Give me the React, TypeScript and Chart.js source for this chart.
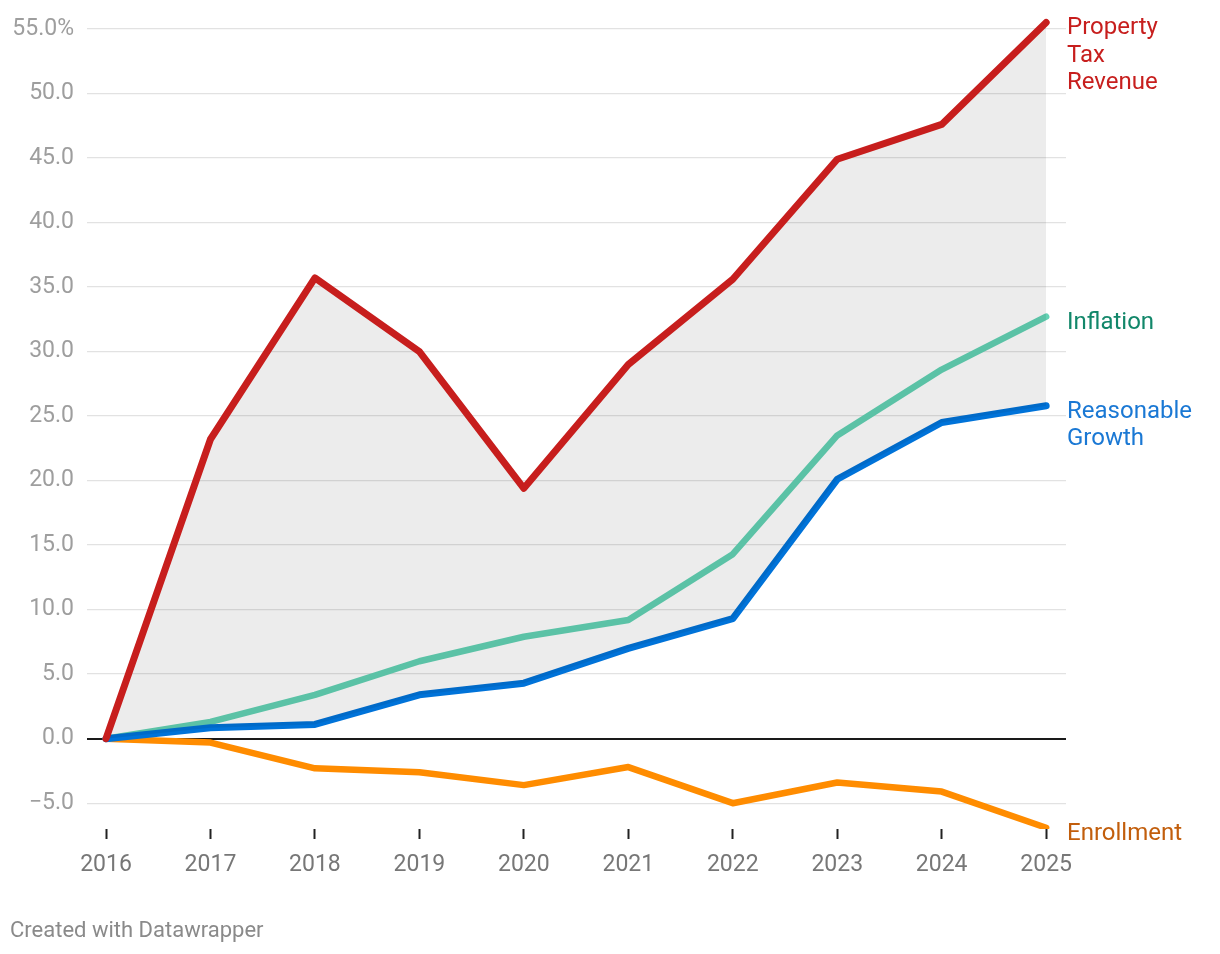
import React, { useEffect, useRef } from "react";
import { Chart, registerables } from "chart.js";

Chart.register(...registerables);

const years = [2016, 2017, 2018, 2019, 2020, 2021, 2022, 2023, 2024, 2025];
const propertyTax = [0, 23.2, 35.7, 30.0, 19.4, 29.0, 35.6, 44.9, 47.6, 55.5];
const reasonableGrowth = [0, 0.85, 1.1, 3.4, 4.3, 7.0, 9.3, 20.1, 24.5, 25.8];
const inflation = [0, 1.3, 3.4, 6.0, 7.9, 9.2, 14.3, 23.5, 28.6, 32.7];
const enrollment = [0, -0.3, -2.3, -2.6, -3.6, -2.2, -5.0, -3.4, -4.1, -6.9];
const yTicks = [-5, 0, 5, 10, 15, 20, 25, 30, 35, 40, 45, 50, 55];
const seriesLabels = [
  ["Property", "Tax", "Revenue"],
  ["Reasonable", "Growth"],
  ["Inflation"],
  ["Enrollment"],
];
const labelColors = ["#c71e1d", "#1a78d4", "#12876a", "#c25e0c"];
const footer = "Created with Datawrapper";

const FONT = "Roboto, 'Noto Sans', sans-serif";

const pts = (vals: number[]) => years.map((x, i) => ({ x, y: vals[i] }));

const labelPlugin = {
  id: "endLabels",
  afterDatasetsDraw(chart: any) {
    const ctx = chart.ctx;
    const area = chart.chartArea;
    ctx.save();
    ctx.font = `24px ${FONT}`;
    ctx.textBaseline = "middle";
    ctx.textAlign = "left";
    chart.data.datasets.forEach((ds: any, i: number) => {
      const meta = chart.getDatasetMeta(i);
      const last = meta.data[meta.data.length - 1];
      ctx.fillStyle = labelColors[i];
      seriesLabels[i].forEach((line, j) => {
        ctx.fillText(line, area.right + 1, last.y + 6 + j * 27.5);
      });
    });
    ctx.fillStyle = "#8a8a8a";
    ctx.font = `22px ${FONT}`;
    ctx.fillText(footer, 2, 923);
    ctx.restore();
  },
};

export default function App() {
  const ref = useRef<HTMLCanvasElement>(null);
  useEffect(() => {
    if (!ref.current) return;
    const chart = new Chart(ref.current, {
      type: "line",
      data: {
        datasets: [
          {
            label: "Property Tax Revenue",
            data: pts(propertyTax),
            borderColor: "#c71e1d",
            backgroundColor: "rgba(0,0,0,0.075)",
            borderWidth: 7,
            fill: 1,
          },
          {
            label: "Reasonable Growth",
            data: pts(reasonableGrowth),
            borderColor: "#0073d9",
            borderWidth: 7,
            fill: false,
          },
          {
            label: "Inflation",
            data: pts(inflation),
            borderColor: "#63d2b4",
            borderWidth: 6.5,
            fill: false,
          },
          {
            label: "Enrollment",
            data: pts(enrollment),
            borderColor: "#ff8c00",
            borderWidth: 6.5,
            fill: false,
          },
        ] as any,
      },
      options: {
        animation: false,
        responsive: false,
        maintainAspectRatio: false,
        layout: { padding: { top: 8, right: 146, bottom: 57, left: 0 } },
        elements: {
          point: { radius: 0, hoverRadius: 0 },
          line: { tension: 0, borderCapStyle: "round", borderJoinStyle: "round" },
        },
        plugins: {
          legend: { display: false },
          tooltip: { enabled: false },
        },
        scales: {
          x: {
            type: "linear",
            min: 2015.818,
            max: 2025.19,
            afterBuildTicks: (s: any) => {
              s.ticks = years.map((v) => ({ value: v }));
            },
            afterFit: (s: any) => {
              s.height = 60;
              s.paddingLeft = 0;
              s.paddingRight = 0;
            },
            border: { display: false },
            grid: {
              drawOnChartArea: false,
              drawTicks: true,
              tickLength: 10,
              tickWidth: 2,
              tickColor: "#222",
              offset: false,
            },
            ticks: {
              padding: 12,
              color: "#777",
              font: { family: FONT, size: 23 },
              callback: (v: any) => String(v),
              maxRotation: 0,
              autoSkip: false,
            },
          },
          y: {
            type: "linear",
            min: -7,
            max: 56,
            afterBuildTicks: (s: any) => {
              s.ticks = yTicks.map((v) => ({ value: v }));
            },
            afterFit: (s: any) => {
              s.width = 79;
              s.paddingTop = 0;
              s.paddingBottom = 0;
            },
            border: { display: false },
            grid: {
              drawTicks: false,
              color: (c: any) => (c.tick && c.tick.value === 0 ? "#1a1a1a" : "#e2e2e2"),
              lineWidth: (c: any) => (c.tick && c.tick.value === 0 ? 2 : 1.3),
            },
            ticks: {
              padding: 13,
              color: "#9e9e9e",
              font: { family: FONT, size: 23 },
              callback: (v: any) => {
                const n = Number(v);
                const s = Math.abs(n).toFixed(1);
                const t = n < 0 ? "\u2212" + s : s;
                return n === 55 ? t + "%" : t;
              },
            },
          },
        },
      } as any,
      plugins: [labelPlugin],
    });
    return () => chart.destroy();
  }, []);
  return <canvas ref={ref} width={1204} height={938} style={{ display: "block" }} />;
}
